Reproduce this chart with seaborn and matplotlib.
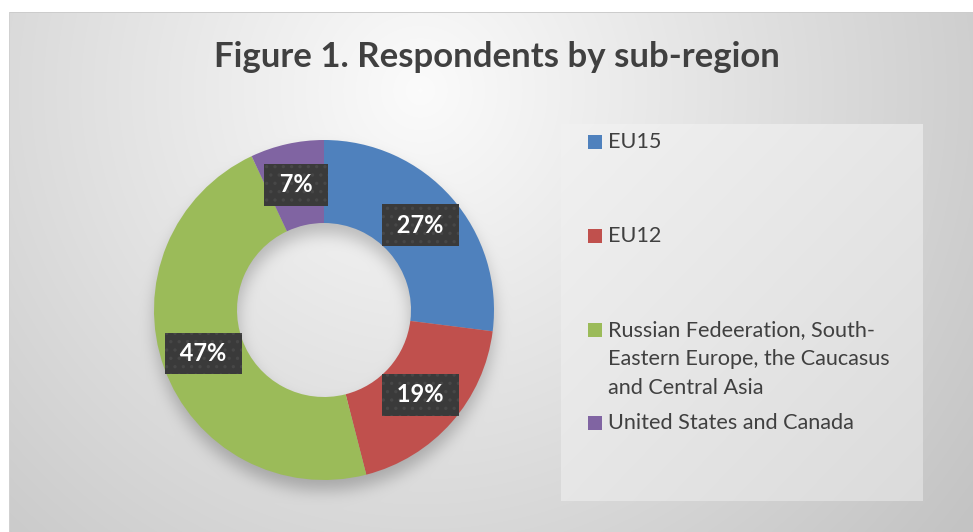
import numpy as np
import matplotlib
matplotlib.use("Agg")
import matplotlib.pyplot as plt
import seaborn as sns
from matplotlib.patches import Rectangle

# ---- data ----
title = "Figure 1. Respondents by sub-region"
categories = [
    "EU15",
    "EU12",
    "Russian Fedeeration, South-\nEastern Europe, the Caucasus\nand Central Asia",
    "United States and Canada",
]
shares = [27, 19, 47, 7]
colors = ["#4F81BD", "#C0504D", "#9BBB59", "#8064A2"]

sns.set_theme(style="white")
plt.rcParams['font.family'] = ['Lato', 'DejaVu Sans']

W, H = 973, 532
fig = plt.figure(figsize=(W / 100, H / 100), dpi=100)

# ---- layout (pixels) ----
cx, cy, ro, ri = 324, 310, 170, 87
leg_x0, leg_y0, leg_x1, leg_y1 = 561, 124, 922, 500
row_y = [142, 236, 330, 423]
line_step = 29
text_col = "#404040"


def box1d(a, k, axis):
    a = np.moveaxis(a, axis, -1)
    pad = [(0, 0)] * (a.ndim - 1) + [(k + 1, k)]
    p = np.pad(a, pad, mode='edge')
    c = np.cumsum(p, axis=-1)
    out = (c[..., 2 * k + 1:] - c[..., :-(2 * k + 1)]) / (2 * k + 1)
    return np.moveaxis(out, -1, axis)


def blur(a, k):
    for _ in range(3):
        a = box1d(a, k, 0)
        a = box1d(a, k, 1)
    return a


# ---- background gradient with soft shadow ----
yy, xx = np.mgrid[0:H, 0:W].astype(float)
d = np.hypot(xx - 420, yy - 90)
bg = 0.985 - 0.22 * np.clip(d / 700, 0, 1)
r = np.hypot(xx - cx, yy - (cy + 10))
ring = ((r <= ro) & (r >= ri)).astype(float)
bg -= 0.2 * blur(ring, 7)
# legend panel
lx = (xx - leg_x0) / (leg_x1 - leg_x0)
ly = (yy - leg_y0) / (leg_y1 - leg_y0)
inside = (xx >= leg_x0) & (xx <= leg_x1) & (yy >= leg_y0) & (yy <= leg_y1)
panel = 0.945 - 0.085 * np.clip((lx + ly) / 2, 0, 1)
bg[inside] = panel[inside]
# outer white margin + thin border
bg[:12, :] = 1.0
bg[:, :9] = 1.0
bg[12, 9:] = 0.80
bg[12:, 9] = 0.82
rgb = np.dstack([np.clip(bg, 0, 1)] * 3)

axbg = fig.add_axes([0, 0, 1, 1])
axbg.imshow(rgb, extent=(0, W, H, 0), interpolation='bilinear', aspect='auto')
axbg.set_xlim(0, W)
axbg.set_ylim(H, 0)
axbg.axis('off')

# ---- title ----
axbg.text(497, 57, title, ha='center', va='center', fontsize=25,
          fontweight='bold', color=text_col)

# ---- legend ----
for cat, col, y in zip(categories, colors, row_y):
    axbg.add_patch(Rectangle((588, y - 7), 14, 14, facecolor=col, edgecolor='none'))
    for i, line in enumerate(cat.split("\n")):
        axbg.text(608, y + i * line_step, line, ha='left', va='center',
                  fontsize=15.6, color=text_col)

# ---- donut ----
ax = fig.add_axes([(cx - ro) / W, 1 - (cy + ro) / H, 2 * ro / W, 2 * ro / H])
wedges, texts, autotexts = ax.pie(
    shares, colors=colors, startangle=90, counterclock=False, radius=1,
    wedgeprops=dict(width=1 - ri / ro, linewidth=0),
    autopct=lambda p: f" {p:.0f}% ", pctdistance=(ro + ri) / 2 / ro,
    textprops=dict(color='white', fontsize=17, fontweight='bold'))
ax.set_aspect('auto')
ax.set_xlim(-1, 1)
ax.set_ylim(-1, 1)
ax.axis('off')
plt.rcParams['hatch.linewidth'] = 1.2
for t in autotexts:
    t.set_bbox(dict(boxstyle='square,pad=0.4', facecolor='#3a3a3a',
                    edgecolor='#474747', linewidth=0, hatch='..'))

fig.savefig("out.png", dpi=100)
